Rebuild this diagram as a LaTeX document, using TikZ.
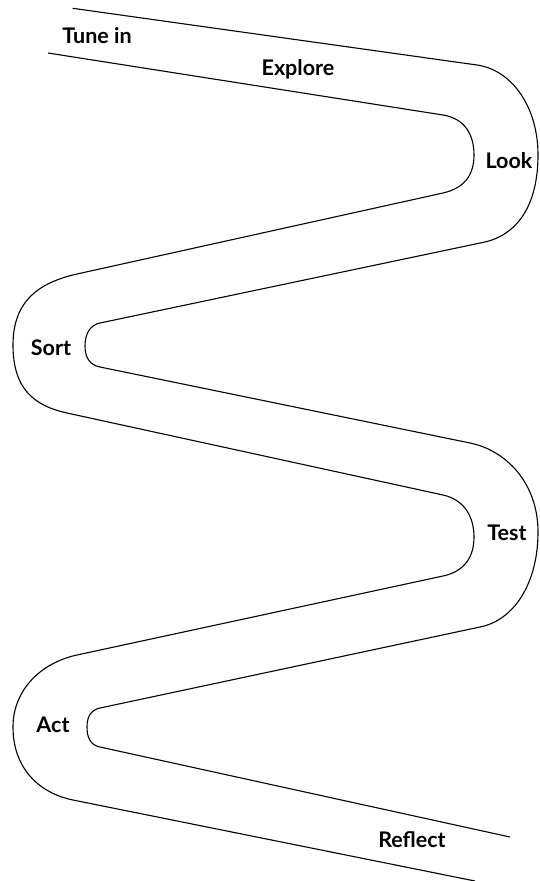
\documentclass[tikz,border=0pt]{standalone}
\usepackage{fontspec}
\setmainfont{Lato}
\begin{document}
\begin{tikzpicture}[x=1pt,y=-1pt,
  roadedge/.style={draw=black,line width=1.1pt,line join=round},
  stage/.style={font=\fontsize{21.5}{24}\selectfont\bfseries,inner sep=0pt}]
\useasboundingbox (0,0) rectangle (539,881);

% upper edge of the winding road
\path[roadedge]
  (72.7,8.3) -- (477,65)
  .. controls (512,70) and (538,107) .. (538,155)
  .. controls (538,203) and (519,234) .. (485,242)
  -- (100,323)
  .. controls (90,325) and (85,334) .. (85,346)
  .. controls (85,358) and (90,365) .. (100,367)
  -- (470,443)
  .. controls (505,450) and (538,482) .. (538,532)
  .. controls (538,582) and (515,620) .. (480,627)
  -- (100,708)
  .. controls (90,710) and (87,718) .. (87,727)
  .. controls (87,737) and (90,745) .. (100,747)
  -- (510,837);

% lower edge of the winding road
\path[roadedge]
  (48,53) -- (443,115)
  .. controls (465,118.5) and (474,135) .. (474,155)
  .. controls (474,175) and (464.5,188) .. (443,193)
  -- (77,274)
  .. controls (40,282.4) and (13,300) .. (13,345)
  .. controls (13,387) and (32,405.3) .. (67,413)
  -- (443,495)
  .. controls (464.5,499.7) and (474,517) .. (474,537)
  .. controls (474,557) and (464.5,571.4) .. (443,576)
  -- (77,655)
  .. controls (40.8,662.8) and (13,690) .. (13,727)
  .. controls (13,768) and (38.7,793) .. (73,800)
  -- (475,881);

% stage labels along the road
\node[stage] (tunein)  at (97,36)   {Tune in};
\node[stage] (explore) at (298,69)  {Explore};
\node[stage] (look)    at (509,161) {Look};
\node[stage] (sort)    at (51,348)  {Sort};
\node[stage] (test)    at (507,533) {Test};
\node[stage] (act)     at (53,725)  {Act};
\node[stage] (reflect) at (412,840) {Reflect};
\end{tikzpicture}
\end{document}
